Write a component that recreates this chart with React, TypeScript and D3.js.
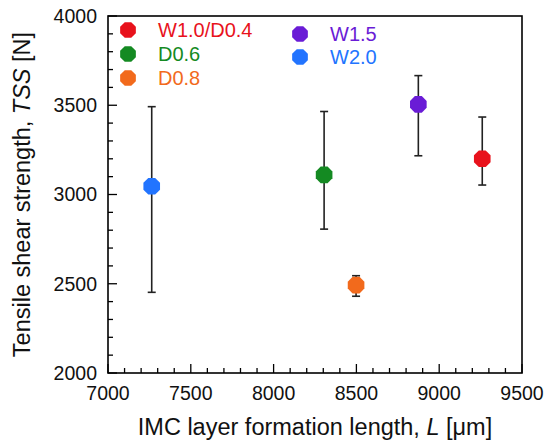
import * as d3 from 'd3';

const SERIES = ['W1.0/D0.4', 'D0.6', 'D0.8', 'W1.5', 'W2.0'];
const COLORS = ['#e8121c', '#148a22', '#f26a1c', '#6a1cd6', '#2274ff'];
const L_VALUES = [9260, 8305, 8498, 8874, 7264];
const TSS_VALUES = [3200, 3110, 2492, 3505, 3046];
const TSS_LOW = [3053, 2806, 2430, 3217, 2452];
const TSS_HIGH = [3434, 3465, 2545, 3666, 3492];

const X_TICKS = [7000, 7500, 8000, 8500, 9000, 9500];
const Y_TICKS = [2000, 2500, 3000, 3500, 4000];

const W = 550;
const H = 447;
const margin = { top: 16, right: 28, bottom: 74, left: 108 };
const FONT = 'Liberation Sans, Arial, sans-serif';

const x = d3.scaleLinear().domain([7000, 9500]).range([margin.left, W - margin.right]);
const y = d3.scaleLinear().domain([2000, 4000]).range([H - margin.bottom, margin.top]);

const octagon = (cx: number, cy: number, r: number) => {
  const pts: [number, number][] = d3.range(8).map(k => {
    const a = (Math.PI / 8) + (k * Math.PI) / 4;
    return [cx + r * Math.cos(a), cy + r * Math.sin(a)];
  });
  return d3.line()(pts) + 'Z';
};

// legend slots: [column, row]
const LEGEND_POS: [number, number][] = [[0, 0], [0, 1], [0, 2], [1, 0], [1, 1]];
const LEGEND_ROWS = [[30, 54, 78], [34, 57]];
const LEGEND_X = [128, 300];

export default function App() {
  const x0 = x.range()[0];
  const x1 = x.range()[1];
  const y0 = y.range()[0];
  const y1 = y.range()[1];
  const minorX = d3.range(7000, 9501, 100);
  const minorY = d3.range(2000, 4001, 100);

  return (
    <svg width={W} height={H} style={{ position: 'absolute', left: 0, top: 0, background: '#fff' }} fontFamily={FONT}>
      {/* minor ticks */}
      {minorX.map(v => (
        <line key={'mx' + v} x1={x(v)} x2={x(v)} y1={y0} y2={y0 - (v % 500 === 0 ? 9 : 5)} stroke="#000" strokeWidth={1.3} />
      ))}
      {minorY.map(v => (
        <line key={'my' + v} x1={x0} x2={x0 + (v % 500 === 0 ? 9 : 5)} y1={y(v)} y2={y(v)} stroke="#000" strokeWidth={1.3} />
      ))}
      {/* frame */}
      <rect x={x0} y={y1} width={x1 - x0} height={y0 - y1} fill="none" stroke="#000" strokeWidth={1.6} />

      {X_TICKS.map(v => (
        <text key={'xt' + v} x={x(v)} y={y0 + 27} textAnchor="middle" fontSize={19.5} fill="#111">{v}</text>
      ))}
      {Y_TICKS.map(v => (
        <text key={'yt' + v} x={x0 - 11} y={y(v)} dy="0.35em" textAnchor="end" fontSize={19.5} fill="#111">{v}</text>
      ))}

      {/* error bars */}
      {SERIES.map((s, i) => (
        <g key={'e' + s} stroke="#222" strokeWidth={1.6}>
          <line x1={x(L_VALUES[i])} x2={x(L_VALUES[i])} y1={y(TSS_LOW[i])} y2={y(TSS_HIGH[i])} />
          <line x1={x(L_VALUES[i]) - 4} x2={x(L_VALUES[i]) + 4} y1={y(TSS_LOW[i])} y2={y(TSS_LOW[i])} />
          <line x1={x(L_VALUES[i]) - 4} x2={x(L_VALUES[i]) + 4} y1={y(TSS_HIGH[i])} y2={y(TSS_HIGH[i])} />
        </g>
      ))}
      {SERIES.map((s, i) => (
        <path key={'p' + s} d={octagon(x(L_VALUES[i]), y(TSS_VALUES[i]), 9)} fill={COLORS[i]} />
      ))}

      {/* legend */}
      {SERIES.map((s, i) => {
        const [c, r] = LEGEND_POS[i];
        const cy = LEGEND_ROWS[c][r];
        return (
          <g key={'l' + s}>
            <path d={octagon(LEGEND_X[c], cy, 8.5)} fill={COLORS[i]} />
            <text x={LEGEND_X[c] + 30} y={cy} dy="0.36em" fontSize={20} fill={COLORS[i]}>{s}</text>
          </g>
        );
      })}

      {/* axis titles */}
      <text x={(x0 + x1) / 2} y={H - 12} textAnchor="middle" fontSize={23.5} fill="#111">
        IMC layer formation length, <tspan fontStyle="italic">L</tspan> [μm]
      </text>
      <text transform={`translate(30,${(y0 + y1) / 2}) rotate(-90)`} textAnchor="middle" fontSize={23.5} fill="#111">
        Tensile shear strength, <tspan fontStyle="italic">TSS</tspan> [N]
      </text>
    </svg>
  );
}
